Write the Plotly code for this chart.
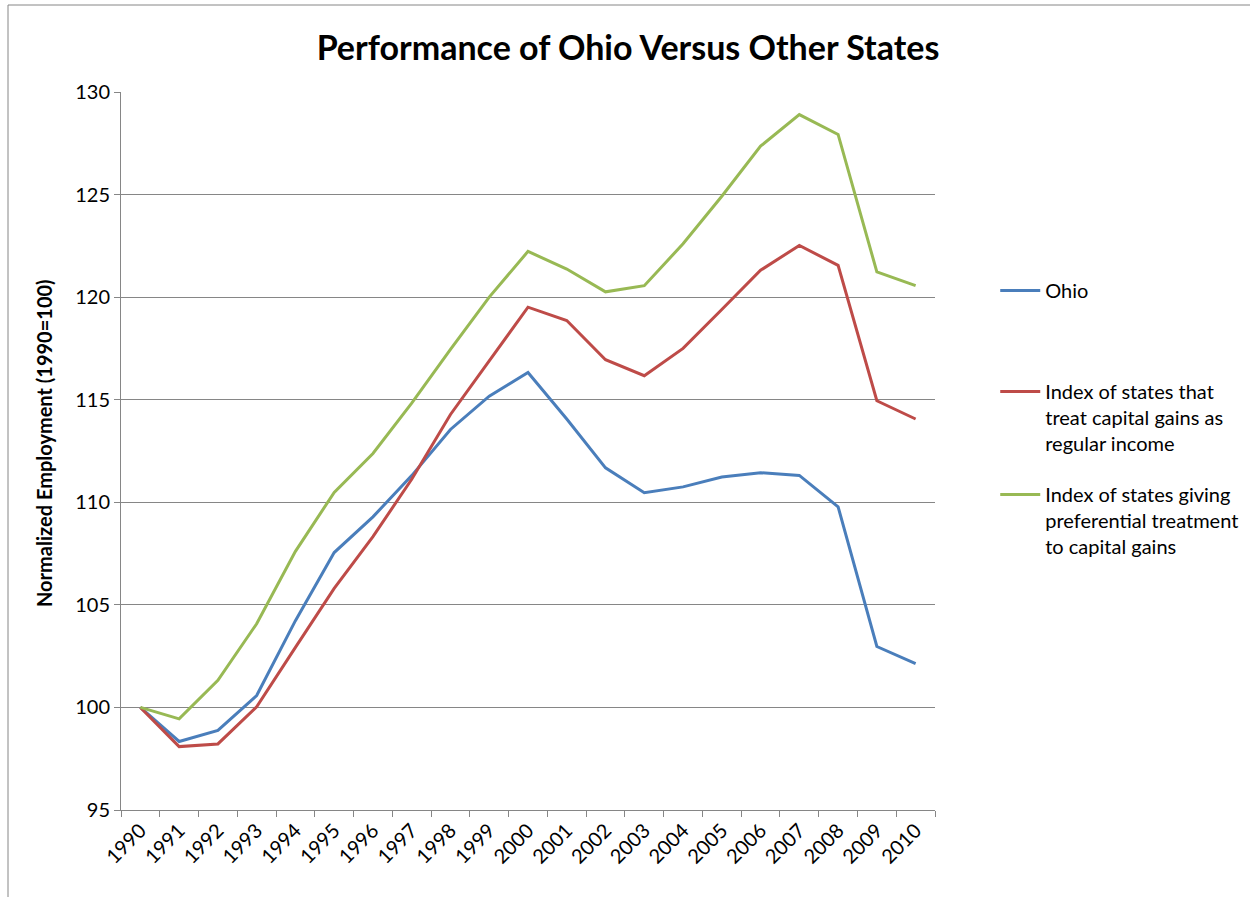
import plotly.graph_objects as go

years = [str(y) for y in range(1990, 2011)]
ohio = [100.0, 98.34, 98.88, 100.58, 104.23, 107.55, 109.29, 111.3, 113.55, 115.17, 116.33,
        114.06, 111.68, 110.47, 110.75, 111.23, 111.44, 111.31, 109.78, 102.97, 102.13]
regular_income = [100.0, 98.09, 98.22, 100.03, 102.93, 105.8, 108.33, 111.12, 114.28, 116.9, 119.51,
                  118.86, 116.95, 116.17, 117.5, 119.4, 121.31, 122.52, 121.55, 114.95, 114.06]
preferential = [100.0, 99.44, 101.32, 104.08, 107.61, 110.48, 112.38, 114.83, 117.45, 120.0, 122.23,
                121.37, 120.26, 120.56, 122.6, 124.92, 127.36, 128.9, 127.93, 121.23, 120.56]

names = ["Ohio",
         "Index of states that<br>treat capital gains as<br>regular income",
         "Index of states giving<br>preferential treatment<br>to capital gains"]
colors = ["#4A7EBB", "#BE4B48", "#98B954"]
series = [ohio, regular_income, preferential]
legend_ids = ["legend", "legend2", "legend3"]
legend_tops = [0.7507, 0.610, 0.4666]

FONT = "Lato, 'Open Sans', sans-serif"

fig = go.Figure()
for nm, col, vals, lg in zip(names, colors, series, legend_ids):
    fig.add_trace(go.Scatter(x=years, y=vals, mode="lines", name=nm, legend=lg,
                             line=dict(color=col, width=3)))

legend_style = dict(x=1.074, xanchor="left", yanchor="top", valign="top",
                    font=dict(family=FONT, size=20, color="black"),
                    bgcolor="rgba(0,0,0,0)", itemwidth=40)

fig.update_layout(
    width=1250, height=897,
    paper_bgcolor="white", plot_bgcolor="white",
    margin=dict(l=121, r=315, t=92, b=87, autoexpand=False),
    font=dict(family=FONT, size=20, color="black"),
    title=dict(text="<b>Performance of Ohio Versus Other States</b>",
               x=0.5024, xref="container", xanchor="center",
               y=1 - 48 / 897, yref="container", yanchor="middle",
               font=dict(family=FONT, size=34, color="black")),
    showlegend=True,
    legend=dict(y=legend_tops[0], **legend_style),
    legend2=dict(y=legend_tops[1], **legend_style),
    legend3=dict(y=legend_tops[2], **legend_style),
    xaxis=dict(type="category", showgrid=False, showline=True, linecolor="#868686",
               linewidth=1, ticks="outside", tickson="boundaries", ticklen=6,
               tickcolor="#868686", tickangle=-45, range=[-0.5, 20.5],
               tickfont=dict(family=FONT, size=20, color="black")),
    yaxis=dict(range=[95, 130], dtick=5, tick0=95, showgrid=True, gridcolor="#868686",
               gridwidth=1, showline=True, linecolor="#868686", linewidth=1,
               ticks="outside", ticklen=6, tickcolor="#868686", zeroline=False,
               tickfont=dict(family=FONT, size=20, color="black")),
    annotations=[dict(text="<b>Normalized Employment (1990=100)</b>", textangle=-90,
                      x=(44 - 121) / 814, y=(810 - 443) / 718, xref="paper", yref="paper",
                      xanchor="center", yanchor="middle", showarrow=False,
                      font=dict(family=FONT, size=20, color="black"))],
    shapes=[dict(type="line", xref="paper", yref="paper",
                 x0=(8 - 121) / 814, x1=(1260 - 121) / 814,
                 y0=(810 - 5) / 718, y1=(810 - 5) / 718,
                 line=dict(color="#868686", width=1)),
            dict(type="line", xref="paper", yref="paper",
                 x0=(8 - 121) / 814, x1=(8 - 121) / 814,
                 y0=(810 - 5) / 718, y1=(810 - 910) / 718,
                 line=dict(color="#868686", width=1))],
)

fig.write_html("out.html", post_script="document.body.style.margin='0';",
               config={"displayModeBar": False})
